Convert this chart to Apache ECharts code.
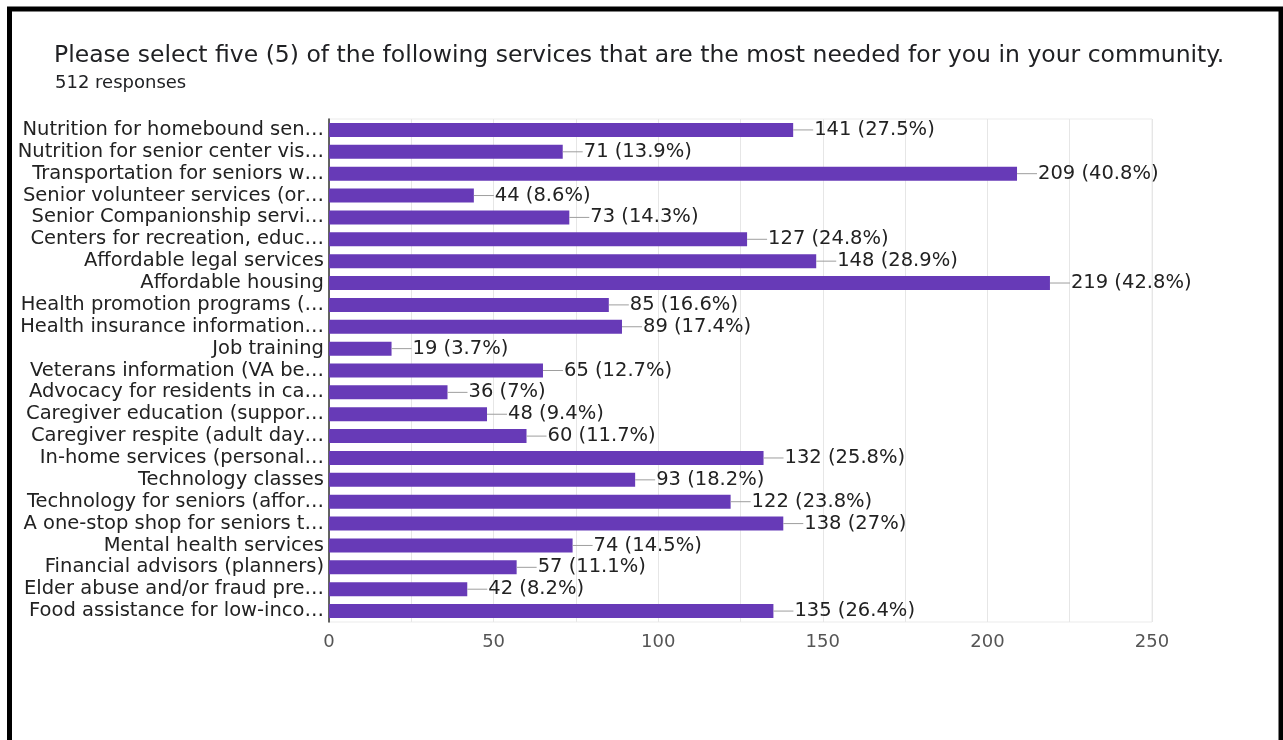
<!DOCTYPE html>
<html>
<head>
<meta charset="utf-8">
<script src="https://cdn.jsdelivr.net/npm/echarts@6/dist/echarts.min.js"></script>
<style>
html,body{margin:0;padding:0;background:#fff;}
#chart{width:1283px;height:740px;}
</style>
</head>
<body>
<div id="chart"></div>
<script>
const titleText = 'Please select five (5) of the following services that are the most needed for you in your community.';
const subtitleText = '512 responses';
const categories = [
  'Nutrition for homebound sen\u2026',
  'Nutrition for senior center vis\u2026',
  'Transportation for seniors w\u2026',
  'Senior volunteer services (or\u2026',
  'Senior Companionship servi\u2026',
  'Centers for recreation, educ\u2026',
  'Affordable legal services',
  'Affordable housing',
  'Health promotion programs (\u2026',
  'Health insurance information\u2026',
  'Job training',
  'Veterans information (VA be\u2026',
  'Advocacy for residents in ca\u2026',
  'Caregiver education (suppor\u2026',
  'Caregiver respite (adult day\u2026',
  'In-home services (personal\u2026',
  'Technology classes',
  'Technology for seniors (affor\u2026',
  'A one-stop shop for seniors t\u2026',
  'Mental health services',
  'Financial advisors (planners)',
  'Elder abuse and/or fraud pre\u2026',
  'Food assistance for low-inco\u2026'
];
const counts = [141, 71, 209, 44, 73, 127, 148, 219, 85, 89, 19, 65, 36, 48, 60, 132, 93, 122, 138, 74, 57, 42, 135];
const percents = ['27.5%', '13.9%', '40.8%', '8.6%', '14.3%', '24.8%', '28.9%', '42.8%', '16.6%', '17.4%', '3.7%', '12.7%', '7%', '9.4%', '11.7%', '25.8%', '18.2%', '23.8%', '27%', '14.5%', '11.1%', '8.2%', '26.4%'];
const xTicks = [0, 50, 100, 150, 200, 250];

const chart = echarts.init(document.getElementById('chart'), null, {renderer: 'canvas'});
const FONT = '"DejaVu Sans", sans-serif';

const labelData = counts.map((v, i) => [v, i]);

chart.setOption({
  backgroundColor: '#fff',
  animation: false,
  graphic: [
    {type: 'rect', shape: {x: 9.5, y: 9, width: 1271.5, height: 800}, style: {fill: 'none', stroke: '#000', lineWidth: 5}, z: 100},
    {type: 'text', left: 54, top: 44, style: {text: titleText, font: '23.5px ' + FONT, fill: '#202124'}},
    {type: 'text', left: 55, top: 74, style: {text: subtitleText, font: '18px ' + FONT, fill: '#202124'}}
  ],
  grid: {left: 329, right: 131, top: 119, bottom: 118, show: true, borderColor: '#ebebeb', borderWidth: 1},
  xAxis: {
    type: 'value', min: xTicks[0], max: xTicks[xTicks.length - 1], interval: 50,
    axisLine: {show: false}, axisTick: {show: false},
    axisLabel: {color: '#555', fontFamily: FONT, fontSize: 18, margin: 11},
    splitLine: {show: true, lineStyle: {color: '#e6e6e6', width: 1}},
    minorTick: {show: false, splitNumber: 2},
    minorSplitLine: {show: true, lineStyle: {color: '#e6e6e6', width: 1}}
  },
  yAxis: {
    type: 'category', data: categories, inverse: true,
    axisLine: {show: true, lineStyle: {color: '#333', width: 1.5}},
    axisTick: {show: false},
    axisLabel: {color: '#222', fontFamily: FONT, fontSize: 19.5, margin: 5, interval: 0, hideOverlap: false}
  },
  series: [
    {
      type: 'bar', data: counts, barCategoryGap: '36%',
      itemStyle: {color: '#673ab7'}
    },
    {
      type: 'custom', data: labelData, encode: {x: 0, y: 1},
      renderItem: function (params, api) {
        const i = api.value(1);
        const p = api.coord([api.value(0), i]);
        return {
          type: 'group',
          children: [
            {type: 'line', shape: {x1: p[0], y1: p[1], x2: p[0] + 20, y2: p[1]}, style: {stroke: '#9e9e9e', lineWidth: 1}},
            {type: 'text', x: p[0] + 21, y: p[1], style: {text: counts[i] + ' (' + percents[i] + ')', font: '19.5px ' + FONT, fill: '#222', align: 'left', verticalAlign: 'middle'}}
          ]
        };
      },
      z: 5
    }
  ]
});
</script>
</body>
</html>
